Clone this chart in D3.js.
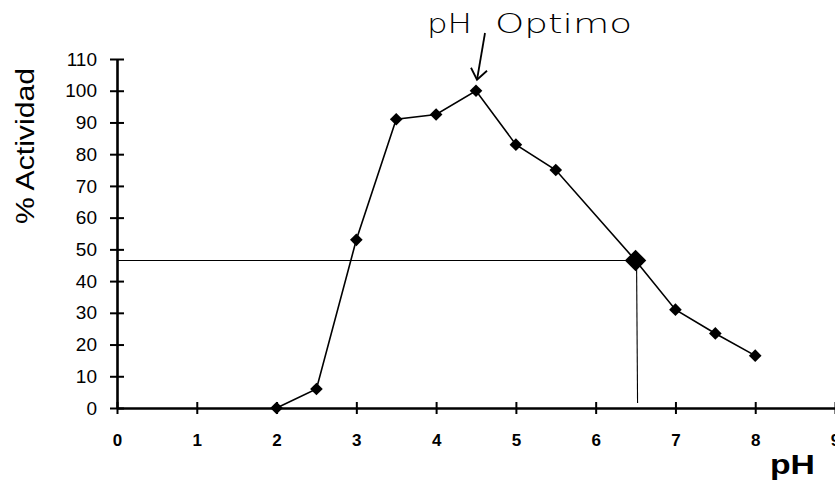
<!DOCTYPE html>
<html>
<head>
<meta charset="utf-8">
<script src="https://cdn.jsdelivr.net/npm/d3@7"></script>
<style>
  html, body { margin: 0; padding: 0; background: #fff; }
  svg { display: block; }
</style>
</head>
<body>
<svg id="chart" width="835" height="483"></svg>
<script>
// ---- DATA ----
const phValues = [2, 2.5, 3, 3.5, 4, 4.5, 5, 5.5, 6.5, 7, 7.5, 8];
const actividad = [0, 6, 53, 91, 92.5, 100, 83, 75, 46.5, 31, 23.5, 16.5];
const xTicks = [0, 1, 2, 3, 4, 5, 6, 7, 8, 9];
const yTicks = [0, 10, 20, 30, 40, 50, 60, 70, 80, 90, 100, 110];
const halfActivity = 46.5;   // guide line level
const halfPh = 6.5;          // guide line pH
const optimoPh = 4.5;

const svg = d3.select('#chart');
const x = d3.scaleLinear().domain([0, 9]).range([117, 835]);
const y = d3.scaleLinear().domain([0, 110]).range([408, 59]);
const FONT = 'Liberation Sans, Arial, sans-serif';

// ---- AXES ----
const xAxis = d3.axisBottom(x).tickValues(xTicks).tickSizeInner(0).tickSizeOuter(0).tickPadding(26);
const gx = svg.append('g').attr('transform', `translate(0,${y(0)})`).call(xAxis);
gx.attr('font-size', null).attr('font-family', null);
gx.select('.domain').attr('stroke', '#000').attr('stroke-width', 2.6);
gx.selectAll('.tick text')
  .style('font-family', FONT).style('font-weight', 'bold').style('font-size', '17px')
  .attr('fill', '#000');
gx.selectAll('.tick').append('line')
  .attr('y1', -6).attr('y2', 6).attr('stroke', '#000').attr('stroke-width', 2);

const yAxis = d3.axisLeft(y).tickValues(yTicks).tickSizeInner(0).tickSizeOuter(0).tickPadding(20);
const gy = svg.append('g').attr('transform', `translate(${x(0)},0)`).call(yAxis);
gy.attr('font-size', null).attr('font-family', null);
gy.select('.domain').attr('stroke', '#000').attr('stroke-width', 2.6);
gy.selectAll('.tick text')
  .style('font-family', FONT).style('font-size', '19px')
  .attr('fill', '#000');
gy.selectAll('.tick').append('line')
  .attr('x1', -7).attr('x2', 7).attr('stroke', '#000').attr('stroke-width', 2);

// ---- GUIDE LINES (half activity) ----
svg.append('line')
  .attr('x1', x(0)).attr('x2', x(halfPh))
  .attr('y1', y(halfActivity)).attr('y2', y(halfActivity))
  .attr('stroke', '#000').attr('stroke-width', 1.1);
svg.append('line')
  .attr('x1', x(halfPh) + 1).attr('x2', x(halfPh) + 2)
  .attr('y1', y(halfActivity)).attr('y2', y(0) - 5)
  .attr('stroke', '#000').attr('stroke-width', 1.1);

// ---- DATA LINE + MARKERS ----
const pts = phValues.map((p, i) => ({ p, v: actividad[i] }));
svg.append('path')
  .datum(pts)
  .attr('fill', 'none').attr('stroke', '#000').attr('stroke-width', 1.6)
  .attr('d', d3.line().x(d => x(d.p)).y(d => y(d.v)));

const marker = d3.symbol().type(d3.symbolSquare);
svg.selectAll('.pt')
  .data(pts)
  .join('path')
  .attr('class', 'pt')
  .attr('transform', d => `translate(${x(d.p)},${y(d.v)}) rotate(45)`)
  .attr('d', d => marker.size(d.p === halfPh ? 230 : 80)())
  .attr('fill', '#000');

// ---- LABELS ----
svg.append('text')
  .attr('transform', `translate(34,146) rotate(-90)`)
  .attr('text-anchor', 'middle')
  .attr('font-family', FONT).attr('font-weight', 'normal')
  .attr('font-size', 26).attr('fill', '#000')
  .attr('textLength', 156).attr('lengthAdjust', 'spacingAndGlyphs')
  .text('% Actividad');

svg.append('text')
  .attr('x', 770).attr('y', 474)
  .attr('font-family', FONT)
  .attr('font-weight', 'bold').attr('font-size', 28).attr('fill', '#000')
  .attr('textLength', 45).attr('lengthAdjust', 'spacingAndGlyphs')
  .text('pH');

// annotation "pH Optimo" (split around the arrow tail)
const noteFont = 'DejaVu Sans, sans-serif';
svg.append('text')
  .attr('x', 427).attr('y', 33)
  .attr('font-family', noteFont).attr('font-weight', 300)
  .attr('font-size', 26).attr('fill', '#000')
  .attr('textLength', 45).attr('lengthAdjust', 'spacingAndGlyphs')
  .text('pH');
svg.append('text')
  .attr('x', 495).attr('y', 33)
  .attr('font-family', noteFont).attr('font-weight', 300)
  .attr('font-size', 27).attr('fill', '#000')
  .attr('textLength', 137).attr('lengthAdjust', 'spacingAndGlyphs')
  .text('Optimo');

const ax1 = 485, ay1 = 33, ax2 = x(optimoPh) + 1, ay2 = y(100) - 11;
svg.append('line')
  .attr('x1', ax1).attr('y1', ay1).attr('x2', ax2).attr('y2', ay2)
  .attr('stroke', '#000').attr('stroke-width', 1.8);
svg.append('path')
  .attr('d', `M${ax2 - 6},${ay2 - 12} L${ax2},${ay2} L${ax2 + 10},${ay2 - 9}`)
  .attr('fill', 'none').attr('stroke', '#000').attr('stroke-width', 1.8);
</script>
</body>
</html>
